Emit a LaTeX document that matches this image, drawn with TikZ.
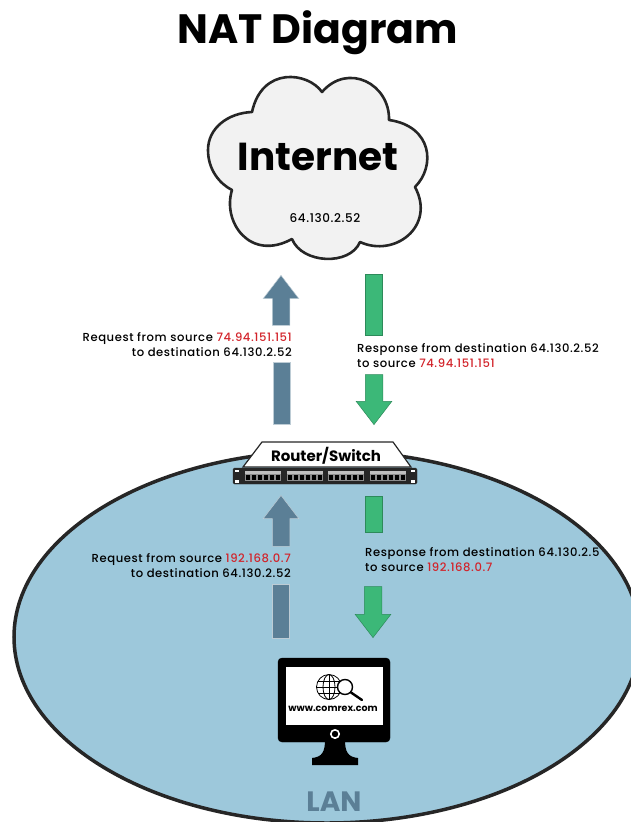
\documentclass[tikz,border=0pt]{standalone}
\usepackage{fontspec}
\setmainfont{Poppins}
\newfontfamily\flowfont[LetterSpace=5]{Poppins Medium}
\usetikzlibrary{shapes.geometric,shapes.arrows}
\definecolor{reqblue}{HTML}{5B7F96}
\definecolor{respgreen}{HTML}{3CB878}
\definecolor{lanblue}{HTML}{9DC8DB}
\definecolor{addrred}{HTML}{D2232A}
\definecolor{rackgray}{HTML}{262626}
\newcommand{\addr}[1]{\textcolor{addrred}{#1}}
\tikzset{
    flowlabel/.style={inner sep=0pt, font=\flowfont\fontsize{11.6}{15.2}\selectfont},
    reqbar/.style={fill=reqblue, draw=white!60!reqblue, line width=0.5pt},
    respbar/.style={fill=respgreen, draw=respgreen!75!black, line width=0.5pt},
    flowarrow/.style={single arrow, single arrow head extend=9pt,
        single arrow tip angle=75, inner xsep=0pt, inner ysep=8.5pt, anchor=tip, line width=0.5pt},
    reqarrow/.style={flowarrow, rotate=90, fill=reqblue, draw=white!60!reqblue},
    resparrow/.style={flowarrow, rotate=-90, fill=respgreen, draw=respgreen!75!black}
}

\begin{document}
\begin{tikzpicture}[x=1pt, y=-1pt]
    \useasboundingbox (0,0) rectangle (630,822);
    \node (title) at (318,33) {\fontsize{41}{41}\selectfont\bfseries NAT Diagram};

    \draw[fill=lanblue, draw=rackgray, line width=3.5pt] (327,637) ellipse [x radius=313, y radius=186];
    \node[text=reqblue] (lan) at (334,802) {\fontsize{28}{28}\selectfont\bfseries LAN};

    \draw[fill=black!5, draw=rackgray, line width=2.6pt, line join=round] (322,92)
        .. controls (308,72) and (262,66) .. (252,112)
        .. controls (228,113) and (208,128) .. (208,150)
        .. controls (208,170) and (220,184) .. (232,190)
        .. controls (222,222) and (250,262) .. (292,239)
        .. controls (302,264) and (350,266) .. (360,242)
        .. controls (395,258) and (436,226) .. (415,187)
        .. controls (436,166) and (432,126) .. (389,120)
        .. controls (390,84) and (348,62) .. (322,92) -- cycle;
    \node (internet) at (318,157) {\fontsize{39}{39}\selectfont\bfseries Internet};
    \node (cloudip) at (325,218) {\flowfont\fontsize{12}{12}\selectfont 64.130.2.52};

    \node[reqarrow, minimum height=50pt] (reqa) at (281,275) {};
    \draw[reqbar] (273,362) rectangle (290,424);
    \node[flowlabel, anchor=north east, align=right] (reqlaba) at (292,332) {Request from source \addr{74.94.151.151}\\to destination 64.130.2.52};

    \draw[respbar] (365,274) rectangle (382,335);
    \node[resparrow, minimum height=50pt] (respa) at (374,425) {};
    \node[flowlabel, anchor=north west, align=left] (resplaba) at (357,343) {Response from destination 64.130.2.52\\to source \addr{74.94.151.151}};

    \node[reqarrow, minimum height=51pt] (reqb) at (281,495) {};
    \draw[reqbar] (272,584) rectangle (289,638);
    \node[flowlabel, anchor=north east, align=right] (reqlabb) at (291,553) {Request from source \addr{192.168.0.7}\\to destination 64.130.2.52};

    \draw[respbar] (365,496) rectangle (382,532);
    \node[resparrow, minimum height=51pt] (respb) at (373,638) {};
    \node[flowlabel, anchor=north west, align=left] (resplabb) at (365,547) {Response from destination 64.130.2.5\\to source \addr{192.168.0.7}};

    \draw[fill=white, draw=rackgray, line width=1.2pt] (243,467) -- (262,442) -- (393,442) -- (411,467) -- cycle;
    \node (router) at (326,456) {\fontsize{15}{15}\selectfont\bfseries Router/Switch};
    \draw[fill=rackgray, draw=rackgray, rounded corners=1.5pt] (233,468) rectangle (417,484);
    \foreach \x in {237,413} {
        \fill[white] (\x-2,469.5) rectangle (\x+2,472);
        \fill[white] (\x-2,480) rectangle (\x+2,482.5);
    }
    \foreach \x in {245,287,328,370} {
        \fill[black!25] (\x,471) rectangle (\x+36,474);
        \fill[black!45] (\x,474) rectangle (\x+36,481);
        \foreach \i in {0,...,5}
            \fill[black] (\x+\i*6+0.7,475) rectangle (\x+\i*6+5.3,480);
    }

    \draw[fill=black, rounded corners=4pt] (278,658) rectangle (390,742);
    \fill[black] (325,740) -- (345,740) .. controls (345,752) and (348,757) .. (358,758)
        -- (358,765) -- (312,765) -- (312,758) .. controls (322,757) and (325,752) .. (325,740) -- cycle;
    \fill[white] (286,667) rectangle (383,725);
    \draw[white, line width=1.6pt] (335,734) circle (4.2);
    \draw[line width=0.8pt] (329,687) circle (12.5);
    \draw[line width=0.8pt] (329,687) ellipse [x radius=6, y radius=12.5];
    \draw[line width=0.8pt] (316.5,687) -- (341.5,687) (329,674.5) -- (329,699.5)
        (318,681) -- (340,681) (318,693) -- (340,693);
    \draw[fill=white, line width=1.4pt] (345,687) circle (7.5);
    \draw[line width=2.4pt, line cap=round] (351,692.5) -- (362,700);
    \node (site) at (333,709) {\fontsize{9.5}{10}\selectfont\bfseries www.comrex.com};
\end{tikzpicture}
\end{document}
